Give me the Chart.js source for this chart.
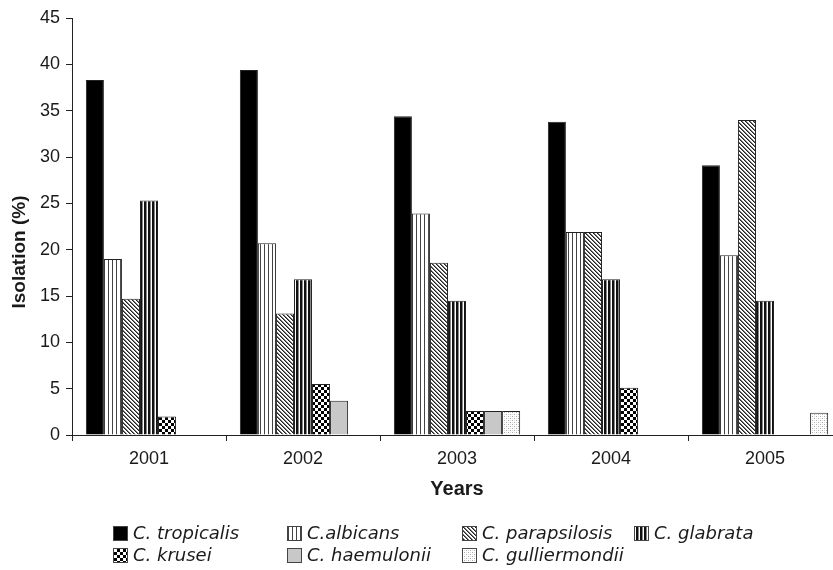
<!DOCTYPE html>
<html>
<head>
<meta charset="utf-8">
<script src="https://cdn.jsdelivr.net/npm/chart.js@4.4.1/dist/chart.umd.min.js"></script>
<style>
  body { margin:0; overflow:hidden; background:#fff; }
  canvas { display:block; }
</style>
</head>
<body>
<canvas id="chart" width="850" height="570"></canvas>
<script>
// data (Isolation %)
const years = ['2001', '2002', '2003', '2004', '2005'];
const species = ['C. tropicalis', 'C.albicans', 'C. parapsilosis', 'C. glabrata',
                 'C. krusei', 'C. haemulonii', 'C. gulliermondii'];
const tropicalis    = [38.3, 39.4, 34.4, 33.8, 29.1];
const albicans      = [19.0, 20.7, 23.9, 21.9, 19.4];
const parapsilosis  = [14.7, 13.1, 18.6, 21.9, 34.0];
const glabrata      = [25.3, 16.8, 14.5, 16.8, 14.5];
const krusei        = [2.0, 5.5, 2.6, 5.1, null];
const haemulonii    = [null, 3.7, 2.6, null, null];
const gulliermondii = [null, null, 2.6, null, 2.4];
const yMax = 45, yStep = 5;

// little fill patterns like the printed figure
function pat(size, draw) {
  const c = document.createElement('canvas');
  c.width = size; c.height = size;
  const g = c.getContext('2d');
  g.fillStyle = '#fff';
  g.fillRect(0, 0, size, size);
  draw(g);
  return g.createPattern(c, 'repeat');
}
const fills = [
  '#000',
  pat(4, g => { g.fillStyle = '#444'; g.fillRect(0, 0, 1, 4); }),
  pat(4, g => { for (let i = 0; i < 4; i++) { g.fillStyle = '#222'; g.fillRect(i, i, 1, 1); g.fillStyle = '#777'; g.fillRect((i + 1) % 4, i, 1, 1); } }),
  pat(4, g => { g.fillStyle = '#111'; g.fillRect(0, 0, 2, 4); g.fillStyle = '#888'; g.fillRect(2, 0, 1, 4); }),
  pat(6, g => { g.fillStyle = '#000'; g.fillRect(0, 0, 3, 3); g.fillRect(3, 3, 3, 3); }),
  '#c8c8c8',
  pat(4, g => { g.fillStyle = '#aaa'; g.fillRect(0, 0, 1, 1); g.fillRect(2, 2, 1, 1); g.fillStyle = '#ddd'; g.fillRect(2, 0, 1, 1); g.fillRect(0, 2, 1, 1); })
];
const series = [tropicalis, albicans, parapsilosis, glabrata, krusei, haemulonii, gulliermondii];

const legendAndTitle = {
  id: 'legendAndTitle',
  afterDraw(chart) {
    const ctx = chart.ctx;
    ctx.save();
    // y axis title, sits a little below the middle in the original
    ctx.fillStyle = '#1a1a1a';
    ctx.font = 'bold 19px "Liberation Sans", Arial, sans-serif';
    ctx.textAlign = 'center';
    ctx.textBaseline = 'middle';
    ctx.translate(20, 252);
    ctx.rotate(-Math.PI / 2);
    ctx.fillText('Isolation (%)', 0, 0);
    ctx.restore();

    // legend, laid out in columns
    const cols = [113, 287, 462, 634];
    const rows = [533, 555];
    ctx.save();
    ctx.font = 'italic 18px "DejaVu Sans", Verdana, sans-serif';
    ctx.textBaseline = 'middle';
    ctx.textAlign = 'left';
    species.forEach((name, i) => {
      const x = cols[i % 4], y = rows[Math.floor(i / 4)];
      ctx.fillStyle = fills[i];
      ctx.fillRect(x, y - 7, 15, 15);
      ctx.strokeStyle = '#444';
      ctx.lineWidth = 1;
      ctx.strokeRect(x + 0.5, y - 6.5, 14, 14);
      ctx.fillStyle = '#1a1a1a';
      ctx.fillText(name, x + 20, y + 1);
    });
    ctx.restore();
  }
};

new Chart('chart', {
  type: 'bar',
  data: {
    labels: years,
    datasets: species.map((name, i) => ({
      label: name,
      data: series[i],
      backgroundColor: fills[i],
      borderColor: '#222',
      borderWidth: 1,
      categoryPercentage: 0.82,
      barPercentage: 1.0
    }))
  },
  options: {
    responsive: false,
    animation: false,
    layout: { padding: { top: 18, right: 8, bottom: 60, left: 0 } },
    plugins: { legend: { display: false }, tooltip: { enabled: false } },
    scales: {
      x: {
        afterFit(s) { s.height = 75; },
        grid: { display: true, drawOnChartArea: false, drawTicks: true, tickLength: 6, color: '#222', offset: true },
        border: { display: true, color: '#222', width: 1 },
        ticks: { color: '#1a1a1a', padding: 7, font: { family: '"Liberation Sans", Arial, sans-serif', size: 18 } },
        title: { display: true, text: 'Years', color: '#1a1a1a', padding: { top: 0, bottom: 9 },
                 font: { family: '"Liberation Sans", Arial, sans-serif', size: 20, weight: 'bold' } }
      },
      y: {
        min: 0, max: yMax,
        afterFit(s) { s.width = 72; },
        grid: { display: true, drawOnChartArea: false, drawTicks: true, tickLength: 6, color: '#222' },
        border: { display: true, color: '#222', width: 1 },
        ticks: { stepSize: yStep, color: '#1a1a1a', padding: 6, font: { family: '"Liberation Sans", Arial, sans-serif', size: 18 } }
      }
    }
  },
  plugins: [legendAndTitle]
});
</script>
</body>
</html>
